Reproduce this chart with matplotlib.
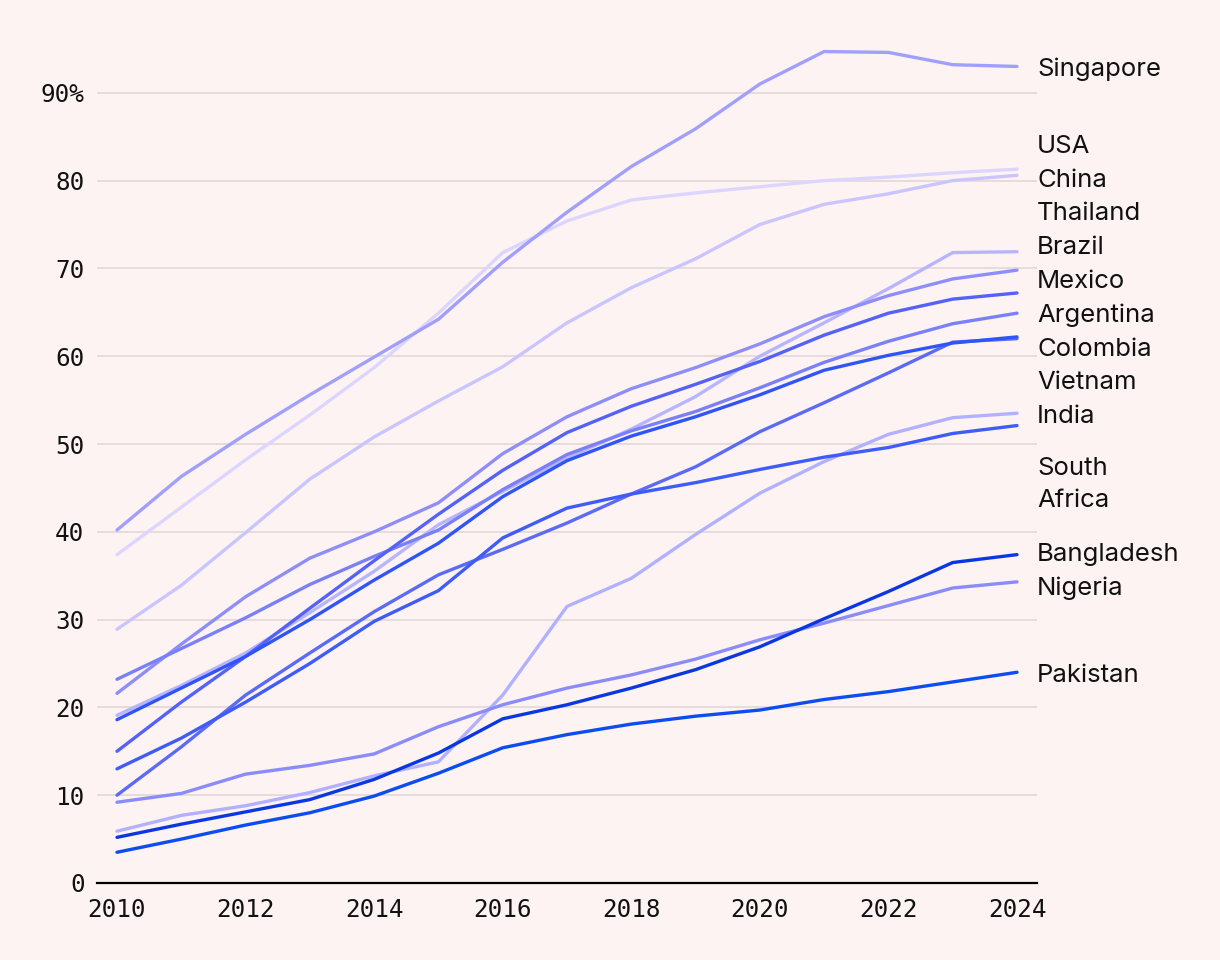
import matplotlib.pyplot as plt
from matplotlib.ticker import FuncFormatter

# Data (share, %)
years = list(range(2010, 2025))

singapore = [40.2, 46.3, 51.1, 55.6, 59.9, 64.2, 70.7, 76.4, 81.6, 85.9, 91.0, 94.7, 94.6, 93.2, 93.0]
usa = [37.4, 42.8, 48.2, 53.3, 58.7, 64.9, 71.8, 75.4, 77.8, 78.6, 79.3, 80.0, 80.4, 80.9, 81.3]
china = [28.9, 33.9, 39.9, 46.0, 50.8, 54.9, 58.8, 63.8, 67.8, 71.1, 75.0, 77.3, 78.5, 80.0, 80.6]
thailand = [19.1, 22.5, 26.2, 30.8, 35.5, 40.8, 44.6, 48.4, 51.7, 55.4, 60.0, 63.8, 67.7, 71.8, 71.9]
brazil = [21.6, 27.2, 32.6, 37.0, 40.0, 43.3, 48.9, 53.1, 56.3, 58.7, 61.4, 64.5, 66.9, 68.8, 69.8]
mexico = [15.0, 20.6, 25.8, 31.3, 36.7, 42.0, 47.0, 51.3, 54.3, 56.8, 59.4, 62.4, 64.9, 66.5, 67.2]
argentina = [23.2, 26.7, 30.2, 34.0, 37.2, 40.2, 44.8, 48.8, 51.5, 53.7, 56.4, 59.3, 61.7, 63.7, 64.9]
colombia = [18.6, 22.2, 25.8, 30.0, 34.5, 38.7, 44.0, 48.1, 50.9, 53.1, 55.6, 58.4, 60.1, 61.5, 62.2]
vietnam = [10.0, 15.5, 21.4, 26.2, 30.9, 35.1, 38.0, 41.0, 44.3, 47.4, 51.4, 54.7, 58.1, 61.6, 62.0]
india = [5.9, 7.7, 8.8, 10.3, 12.2, 13.8, 21.4, 31.5, 34.7, 39.7, 44.4, 48.0, 51.1, 53.0, 53.5]
south_africa = [13.0, 16.5, 20.6, 25.0, 29.8, 33.3, 39.3, 42.7, 44.3, 45.6, 47.1, 48.5, 49.6, 51.2, 52.1]
bangladesh = [5.2, 6.7, 8.1, 9.5, 11.8, 14.8, 18.7, 20.3, 22.2, 24.3, 26.9, 30.1, 33.2, 36.5, 37.4]
nigeria = [9.2, 10.2, 12.4, 13.4, 14.7, 17.8, 20.3, 22.2, 23.7, 25.5, 27.7, 29.6, 31.6, 33.6, 34.3]
pakistan = [3.5, 5.0, 6.6, 8.0, 9.9, 12.5, 15.4, 16.9, 18.1, 19.0, 19.7, 20.9, 21.8, 22.9, 24.0]

names = ["Singapore", "USA", "China", "Thailand", "Brazil", "Mexico", "Argentina",
         "Colombia", "Vietnam", "India", "South\nAfrica", "Bangladesh", "Nigeria", "Pakistan"]
series = [singapore, usa, china, thailand, brazil, mexico, argentina,
          colombia, vietnam, india, south_africa, bangladesh, nigeria, pakistan]
colors = ["#a0a0fb", "#dcd6ff", "#cbc5ff", "#b8b5ff", "#8e8ef9", "#5462f7", "#7a80f8",
          "#2f55f8", "#5c6bf5", "#b2b1ff", "#3e5cf7", "#0a37e2", "#8a8cf9", "#0c4cf0"]

bg = "#fdf3f2"


def dodge(values, sizes, iters=400):
    # push end labels apart so they do not overlap
    pos = list(values)
    order = sorted(range(len(values)), key=lambda i: -values[i])
    for _ in range(iters):
        for a, b in zip(order[:-1], order[1:]):
            need = (sizes[a] + sizes[b]) / 2
            gap = pos[a] - pos[b]
            if gap < need:
                shift = (need - gap) / 2
                pos[a] += shift
                pos[b] -= shift
    return pos


fig = plt.figure(figsize=(12.2, 9.6), dpi=100, facecolor=bg)
ax = fig.add_axes([97 / 1220, 1 - 883 / 960, 940 / 1220, (883 - 30) / 960])
ax.set_facecolor(bg)

# lightest lines underneath, strongest on top
def lightness(c):
    return sum(int(c[i:i + 2], 16) for i in (1, 3, 5))

draw_order = sorted(range(len(series)), key=lambda i: -lightness(colors[i]))
for i in draw_order:
    ax.plot(years, series[i], color=colors[i], lw=2.4, solid_capstyle="round",
            solid_joinstyle="round", zorder=3)

ends = [s[-1] for s in series]
sizes = [11.5 if "\n" in n else 3.85 for n in names]
label_y = dodge(ends, sizes)
for name, y in zip(names, label_y):
    ax.annotate(name, xy=(years[-1], y), xytext=(14.5, -2.2), textcoords="offset points",
                va="center", ha="left", fontsize=18.5, family="Inter", color="#111111",
                linespacing=1.5, annotation_clip=False)

ax.set_xlim(2010 - 20 / 64.29, 2024 + 20 / 64.29)
ax.set_ylim(0, (883 - 30) / 8.78)
ax.set_xticks(range(2010, 2025, 2))
ax.set_yticks(range(0, 100, 10))
ax.yaxis.set_major_formatter(FuncFormatter(lambda v, p: f"{v:.0f}%" if v == 90 else f"{v:.0f}"))

ax.grid(axis="y", color="#e5dada", lw=1.3, zorder=1)
ax.set_axisbelow(True)
for side in ["top", "right", "left"]:
    ax.spines[side].set_visible(False)
ax.spines["bottom"].set_color("#000000")
ax.spines["bottom"].set_linewidth(1.6)
ax.spines["bottom"].set_zorder(4)

ax.tick_params(length=0, labelsize=17.5, colors="#111111")
ax.tick_params(axis="x", pad=11)
ax.tick_params(axis="y", pad=9)
for lab in ax.get_xticklabels() + ax.get_yticklabels():
    lab.set_family("DejaVu Sans Mono")

fig.savefig("out.png", dpi=100, facecolor=bg)
